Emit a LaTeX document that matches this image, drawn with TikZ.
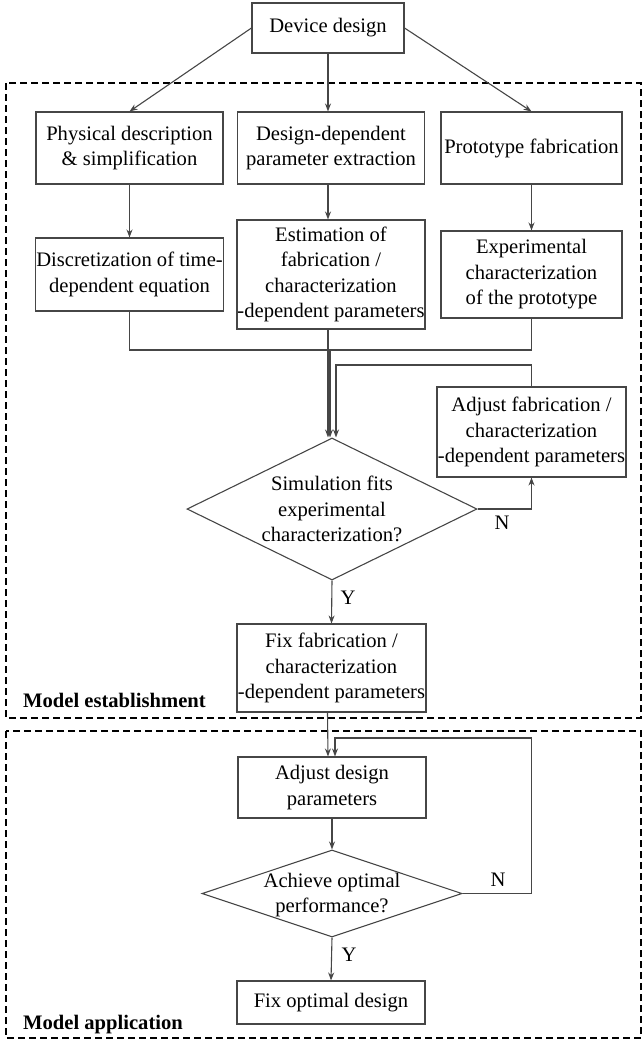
\documentclass[tikz,border=0pt]{standalone}
\usepackage{fontspec}
\setmainfont{Liberation Serif}
\usepackage{tikz}
\usetikzlibrary{arrows.meta, shapes.geometric, calc}
\definecolor{edge}{RGB}{70, 70, 70}

\begin{document}
\begin{tikzpicture}[
  x=1pt, y=-1pt,
  font=\fontsize{20.6}{25.5}\selectfont,
  box/.style={draw=edge, line width=1.1pt, align=center, inner sep=0.5pt},
  dia/.style={draw=edge, line width=1.1pt, diamond, inner sep=0pt},
  lbl/.style={inner sep=0pt, align=center},
  arr/.style={-{Stealth[length=8pt, width=6pt]}, edge, line width=1.1pt},
  ln/.style={edge, line width=1.1pt},
  frame/.style={dash pattern=on 7pt off 4pt, line width=1.2pt},
  zone/.style={font=\fontsize{20.6}{25.5}\selectfont\bfseries, anchor=west, inner sep=0pt},
]
  \useasboundingbox (0,0) rectangle (644,1042);

  % dashed zones
  \draw[frame] (6,83) rectangle (641,718);
  \draw[frame] (6,731) rectangle (641,1038);
  \node[zone] (zest) at (23,700) {Model establishment};
  \node[zone] (zapp) at (23,1025) {Model application};

  % model establishment
  \node[box, minimum width=152pt, minimum height=50pt] (dev) at (328,28) {Device design};
  \node[box, minimum width=187pt, minimum height=72pt] (phys) at (129.5,148) {Physical description\\\& simplification};
  \node[box, minimum width=187pt, minimum height=72pt] (ddp) at (331,148) {Design-dependent\\parameter extraction};
  \node[box, minimum width=181pt, minimum height=72pt] (proto) at (531.5,148) {Prototype fabrication};
  \node[box, minimum width=187pt, minimum height=73pt] (disc) at (129.5,274.5) {Discretization of time-\\dependent equation};
  \node[box, minimum width=187pt, minimum height=109pt] (est) at (331,274.5) {Estimation of\\fabrication /\\characterization\\-dependent parameters};
  \node[box, minimum width=181pt, minimum height=87pt] (exper) at (531.5,274.5) {Experimental\\characterization\\of the prototype};
  \node[box, minimum width=189pt, minimum height=90pt] (adjfab) at (531.5,432) {Adjust fabrication /\\characterization\\-dependent parameters};
  \node[dia, minimum width=290pt, minimum height=142pt] (dia1) at (332,509) {};
  \node[lbl] (dia1txt) at (332,509) {Simulation fits\\experimental\\characterization?};
  \node[box, minimum width=189pt, minimum height=88pt] (fixfab) at (331.5,668) {Fix fabrication /\\characterization\\-dependent parameters};

  % model application
  \node[box, minimum width=188pt, minimum height=61pt] (adjdes) at (332,787.5) {Adjust design\\parameters};
  \node[dia, minimum width=260pt, minimum height=87pt] (dia2) at (332,893.5) {};
  \node[lbl] (dia2txt) at (332,895) {Achieve optimal\\performance?};
  \node[box, minimum width=188pt, minimum height=43pt] (fixopt) at (331,1002.5) {Fix optimal design};

  \coordinate (mrg) at (330,350);
  \coordinate (fb1) at (336,365);
  \coordinate (fb2) at (335,738);

  \draw[arr] (dev.west) -- (phys.north);
  \draw[arr] (dev.south) -- (dev.south |- ddp.north);
  \draw[arr] (dev.east) -- (proto.north);
  \draw[arr] (phys.south) -- (disc.north);
  \draw[arr] (dev.south |- ddp.south) -- (dev.south |- est.north);
  \draw[arr] (proto.south) -- (exper.north);

  \draw[ln] (disc.south) |- (mrg);
  \draw[ln] (exper.south) |- (mrg);
  \draw[arr] (mrg) -- (mrg |- dia1.north);
  \draw[arr] (dev.south |- est.south) -- (dev.south |- dia1.north);
  \draw[arr] (adjfab.north) |- (fb1) -- (fb1 |- dia1.north);
  \draw[arr] (dia1.east) -| (adjfab.south);
  \node[lbl] (n1) at (502,523) {N};
  \draw[arr] (dia1.south) -- (fixfab.north);
  \node[lbl] (y1) at (348,598) {Y};

  \draw[arr] ([xshift=-4pt]fixfab.south) -- ([xshift=-4pt]adjdes.north);
  \draw[arr] (dia2.east) -| (adjfab.south |- fb2) -- (fb2) -- (fb2 |- adjdes.north);
  \node[lbl] (n2) at (498,880) {N};
  \draw[arr] (adjdes.south) -- (dia2.north);
  \draw[arr] (dia2.south) -- (fixopt.north);
  \node[lbl] (y2) at (349,955) {Y};
\end{tikzpicture}
\end{document}
